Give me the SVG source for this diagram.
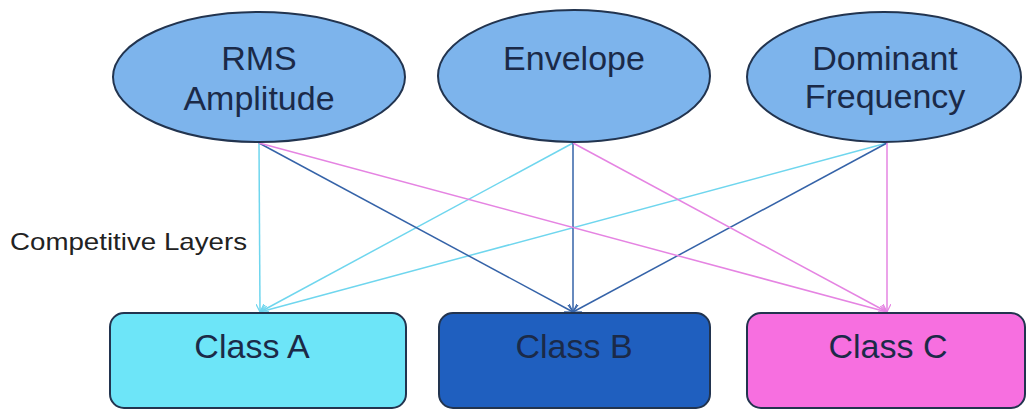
<svg xmlns="http://www.w3.org/2000/svg" width="1027" height="410" viewBox="0 0 1027 410">
<defs>
<style>
.ell{fill:#7db4ec;stroke:#22344f;stroke-width:2}
.box{stroke:#22344f;stroke-width:2}
.t{font-family:"Liberation Sans",Arial,sans-serif;font-size:34px;fill:#1b2a48;text-anchor:middle}
.lbl{font-family:"Liberation Sans",Arial,sans-serif;font-size:24px;fill:#222}
.c{stroke:#6fd6ee;stroke-width:1.5;fill:none}
.b{stroke:#3563a8;stroke-width:1.5;fill:none}
.p{stroke:#e584e2;stroke-width:1.5;fill:none}
</style>
<marker id="mc" viewBox="0 0 10 10" refX="10" refY="5" markerWidth="8" markerHeight="8" markerUnits="userSpaceOnUse" orient="auto"><path d="M0,0 L10,5 L0,10" fill="none" stroke="#6fd6ee" stroke-width="1.5"/></marker>
<marker id="mb" viewBox="0 0 10 10" refX="10" refY="5" markerWidth="8" markerHeight="8" markerUnits="userSpaceOnUse" orient="auto"><path d="M0,0 L10,5 L0,10" fill="none" stroke="#3563a8" stroke-width="1.5"/></marker>
<marker id="mp" viewBox="0 0 10 10" refX="10" refY="5" markerWidth="8" markerHeight="8" markerUnits="userSpaceOnUse" orient="auto"><path d="M0,0 L10,5 L0,10" fill="none" stroke="#e584e2" stroke-width="1.5"/></marker>
</defs>
<rect width="1027" height="410" fill="#ffffff"/>
<g id="connectors">
<line class="c" x1="259" y1="143" x2="260" y2="312" marker-end="url(#mc)"/>
<line class="c" x1="573" y1="143" x2="260" y2="312" marker-end="url(#mc)"/>
<line class="c" x1="887" y1="143" x2="260" y2="312" marker-end="url(#mc)"/>
<line class="b" x1="259" y1="143" x2="573" y2="312" marker-end="url(#mb)"/>
<line class="b" x1="573" y1="143" x2="573" y2="312" marker-end="url(#mb)"/>
<line class="b" x1="887" y1="143" x2="573" y2="312" marker-end="url(#mb)"/>
<line class="p" x1="259" y1="143" x2="887" y2="312" marker-end="url(#mp)"/>
<line class="p" x1="573" y1="143" x2="887" y2="312" marker-end="url(#mp)"/>
<line class="p" x1="887" y1="143" x2="887" y2="312" marker-end="url(#mp)"/>
</g>
<g id="rms">
<ellipse class="ell" cx="259" cy="77" rx="146" ry="65"/>
<text class="t" x="259" y="70">RMS</text>
<text class="t" x="259" y="110">Amplitude</text>
</g>
<g id="envelope">
<ellipse class="ell" cx="574" cy="76" rx="136" ry="66"/>
<text class="t" x="574" y="70">Envelope</text>
</g>
<g id="dominant">
<ellipse class="ell" cx="884" cy="77" rx="137" ry="65"/>
<text class="t" x="885" y="70">Dominant</text>
<text class="t" x="885" y="108">Frequency</text>
</g>
<g id="label">
<text class="lbl" x="10" y="250" textLength="237" lengthAdjust="spacingAndGlyphs">Competitive Layers</text>
</g>
<g id="classA">
<rect class="box" x="110" y="313" width="296" height="95" rx="14" fill="#6de5f8"/>
<text class="t" x="252" y="358">Class A</text>
</g>
<g id="classB">
<rect class="box" x="439" y="313" width="271" height="95" rx="14" fill="#1f5fbf"/>
<text class="t" x="574" y="358">Class B</text>
</g>
<g id="classC">
<rect class="box" x="747" y="313" width="278" height="95" rx="14" fill="#f76fe0"/>
<text class="t" x="888" y="358">Class C</text>
</g>
</svg>
